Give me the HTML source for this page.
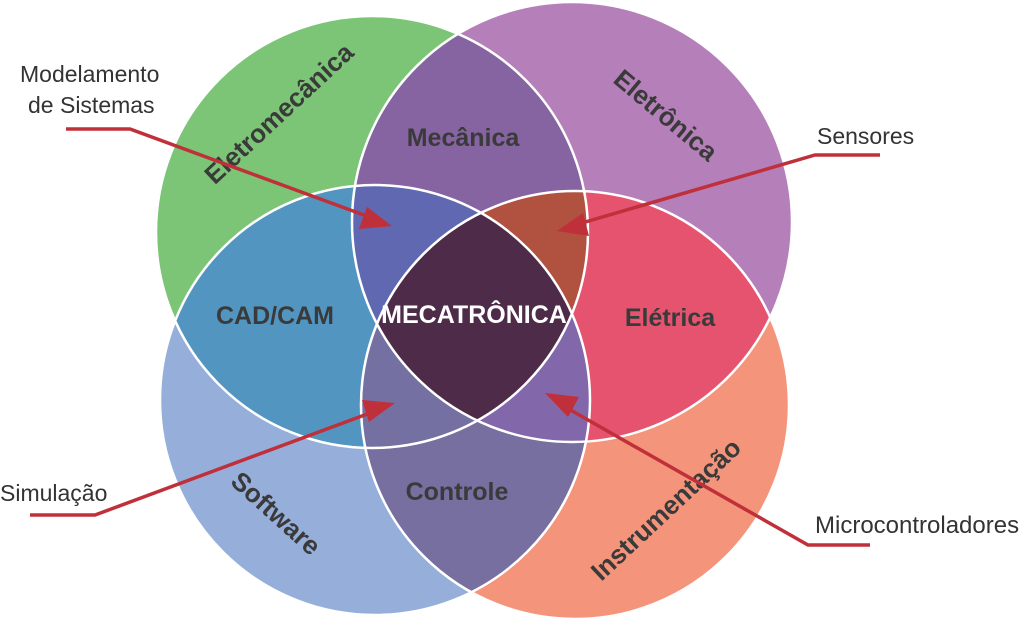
<!DOCTYPE html>
<html><head><meta charset="utf-8"><style>
html,body{margin:0;padding:0;background:#fff;width:1024px;height:625px;overflow:hidden}
svg{display:block}
.l{font-family:"Liberation Sans",sans-serif;font-weight:bold;fill:#3a3a3a;font-size:25px}
.c{font-family:"Liberation Sans",sans-serif;fill:#333;font-size:23px}
</style></head><body>
<svg width="1024" height="625" viewBox="0 0 1024 625" xmlns="http://www.w3.org/2000/svg">
<defs>
<clipPath id="cG"><circle cx="372" cy="232" r="216"/></clipPath>
<clipPath id="cP"><circle cx="572" cy="222" r="220"/></clipPath>
<clipPath id="cB"><circle cx="375" cy="400" r="215"/></clipPath>
<clipPath id="cO"><circle cx="575" cy="405" r="214"/></clipPath>
</defs>
<circle cx="372" cy="232" r="216" fill="#7cc576"/>
<circle cx="572" cy="222" r="220" fill="#b57fb9"/>
<circle cx="375" cy="400" r="215" fill="#96afda"/>
<circle cx="575" cy="405" r="214" fill="#f4947a"/>
<g clip-path="url(#cP)"><circle cx="372" cy="232" r="216" fill="#8663a1"/></g>
<g clip-path="url(#cB)"><circle cx="372" cy="232" r="216" fill="#5295c1"/></g>
<g clip-path="url(#cO)"><circle cx="572" cy="222" r="220" fill="#e5536f"/></g>
<g clip-path="url(#cO)"><circle cx="375" cy="400" r="215" fill="#766fa0"/></g>
<g clip-path="url(#cP)"><g clip-path="url(#cB)"><circle cx="372" cy="232" r="216" fill="#5f68b0"/></g></g>
<g clip-path="url(#cP)"><g clip-path="url(#cO)"><circle cx="372" cy="232" r="216" fill="#b15140"/></g></g>
<g clip-path="url(#cB)"><g clip-path="url(#cO)"><circle cx="372" cy="232" r="216" fill="#7471a2"/></g></g>
<g clip-path="url(#cB)"><g clip-path="url(#cO)"><circle cx="572" cy="222" r="220" fill="#8267ab"/></g></g>
<g clip-path="url(#cP)"><g clip-path="url(#cB)"><g clip-path="url(#cO)"><circle cx="372" cy="232" r="216" fill="#4f2b4a"/></g></g></g>
<g fill="none" stroke="#fff" stroke-width="2.5">
<circle cx="372" cy="232" r="216"/>
<circle cx="572" cy="222" r="220"/>
<circle cx="375" cy="400" r="215"/>
<circle cx="575" cy="405" r="214"/>
</g>
<text class="l" x="463" y="146" text-anchor="middle">Mecânica</text>
<text class="l" x="275" y="324" text-anchor="middle">CAD/CAM</text>
<text class="l" x="670" y="326" text-anchor="middle">Elétrica</text>
<text class="l" x="457" y="500" text-anchor="middle">Controle</text>
<text class="l" x="474" y="323" text-anchor="middle" style="fill:#fff">MECATRÔNICA</text>
<text class="l" x="0" y="0" text-anchor="middle" transform="translate(285,120) rotate(-43)" style="font-size:26px">Eletromecânica</text>
<text class="l" x="0" y="0" text-anchor="middle" transform="translate(660,122) rotate(40)" style="font-size:26px">Eletrônica</text>
<text class="l" x="0" y="0" text-anchor="middle" transform="translate(270,520) rotate(42)" style="font-size:26px">Software</text>
<text class="l" x="0" y="0" text-anchor="middle" transform="translate(672,516) rotate(-43)" style="font-size:26px">Instrumentação</text>
<text class="c" x="20" y="82">Modelamento</text>
<text class="c" x="28" y="113">de Sistemas</text>
<text class="c" x="817" y="144">Sensores</text>
<text class="c" x="0" y="501">Simulação</text>
<text class="c" x="815" y="533" style="font-size:24px">Microcontroladores</text>
<g stroke="#c0303a" stroke-width="3.5" fill="none">
<polyline points="66,129 130,129 372,218"/>
<polyline points="30,515 95,515 378,410"/>
<polyline points="880,155 815,155 575,225"/>
<polyline points="870,545 808,545 560,404"/>
</g>
<g fill="#c0303a">
<polygon points="392,226 359,229 367,207"/>
<polygon points="395,403 369,422 362,400"/>
<polygon points="557,231 583,213 589,236"/>
<polygon points="545,393 579,397 568,417"/>
</g>
</svg>
</body></html>
